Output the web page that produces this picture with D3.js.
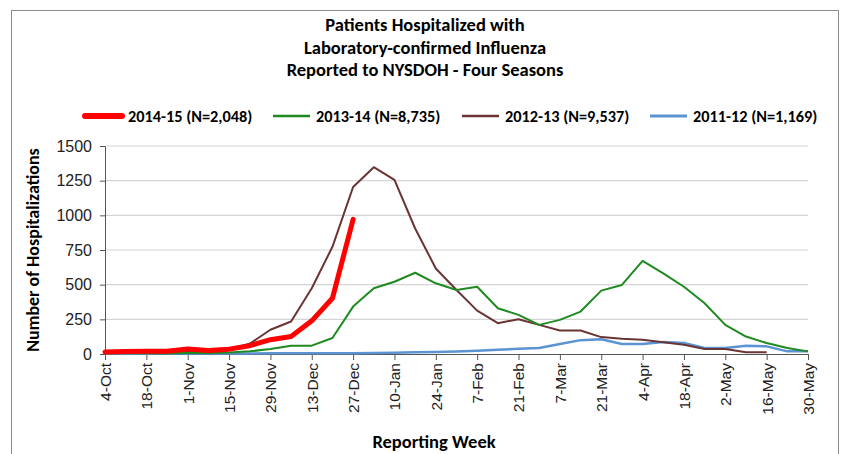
<!DOCTYPE html>
<html lang="en">
<head>
    <meta charset="UTF-8">
    <title>Patients Hospitalized with Laboratory-confirmed Influenza</title>
    <script src="https://d3js.org/d3.v7.min.js"></script>
    <style>
        body { margin: 0; background: #fff; }
        svg { display: block; font-family: Carlito, Calibri, Lato, "Open Sans", sans-serif; }
        .grid line { stroke: #d4d4d4; stroke-width: 1.2; }
        .axis path, .axis line { stroke: #555; }
        .axis text { fill: #222; }
    </style>
</head>
<body>
<svg width="849" height="454"></svg>
<script>
    // reporting weeks (4-Oct .. 30-May), every other one gets a label
    const weeks = ["4-Oct","11-Oct","18-Oct","25-Oct","1-Nov","8-Nov","15-Nov","22-Nov","29-Nov",
        "6-Dec","13-Dec","20-Dec","27-Dec","3-Jan","10-Jan","17-Jan","24-Jan","31-Jan","7-Feb",
        "14-Feb","21-Feb","28-Feb","7-Mar","14-Mar","21-Mar","28-Mar","4-Apr","11-Apr","18-Apr",
        "25-Apr","2-May","9-May","16-May","23-May","30-May"];
    const yTicks = [0, 250, 500, 750, 1000, 1250, 1500];

    const season1415 = [15, 18, 20, 20, 36, 26, 35, 60, 103, 126, 239, 402, 971];
    const season1314 = [4, 5, 5, 6, 7, 8, 10, 19, 36, 60, 60, 115, 342, 474, 521, 586, 510, 462, 485,
        330, 282, 210, 246, 306, 457, 498, 672, 581, 485, 366, 210, 126, 79, 43, 19];
    const season1213 = [10, 12, 14, 15, 18, 22, 35, 74, 175, 234, 474, 773, 1204, 1347, 1256, 905, 617,
        462, 313, 222, 251, 210, 170, 170, 122, 110, 103, 84, 67, 36, 36, 12, 12];
    const season1112 = [2, 2, 3, 3, 3, 3, 4, 4, 5, 5, 5, 6, 6, 7, 9, 12, 15, 18, 24, 30, 37, 43, 72,
        100, 106, 72, 72, 86, 79, 43, 43, 60, 55, 19, 19];

    const seriesNames = ["2014-15 (N=2,048)", "2013-14 (N=8,735)", "2012-13 (N=9,537)", "2011-12 (N=1,169)"];
    const seriesColors = ["#ff0000", "#1f8a1f", "#6b3434", "#5b93d3"];
    const seriesWidths = [5, 2, 2, 2.5];
    const seriesValues = [season1415, season1314, season1213, season1112];

    const svg = d3.select("svg");

    // chart frame
    svg.append("rect")
        .attr("x", 11.5).attr("y", 10.5)
        .attr("width", 827).attr("height", 460)
        .attr("fill", "none").attr("stroke", "#8c8c8c");

    const margin = { top: 146, left: 105, right: 41, bottom: 100 };
    const width = 849 - margin.left - margin.right;
    const height = 454 - margin.top - margin.bottom;

    const x = d3.scalePoint().domain(weeks).range([0, width]);
    const y = d3.scaleLinear().domain([0, 1500]).range([height, 0]);

    const g = svg.append("g").attr("transform", `translate(${margin.left},${margin.top})`);

    // gridlines
    g.append("g").attr("class", "grid")
        .selectAll("line").data(yTicks.slice(1)).join("line")
        .attr("x1", 0).attr("x2", width)
        .attr("y1", d => y(d)).attr("y2", d => y(d));

    // y axis
    const yAxis = g.append("g").attr("class", "axis")
        .call(d3.axisLeft(y).tickValues(yTicks).tickFormat(d3.format("d")).tickSize(5).tickPadding(8));
    yAxis.selectAll("text").style("font-size", "16px");

    // x axis
    const xAxis = g.append("g").attr("class", "axis")
        .attr("transform", `translate(0,${height})`)
        .call(d3.axisBottom(x).tickValues(weeks.filter((d, i) => i % 2 === 0)).tickSize(6).tickPadding(4));
    xAxis.selectAll("text")
        .style("font-size", "15.5px")
        .attr("transform", "rotate(-90)")
        .attr("text-anchor", "end")
        .attr("x", -9).attr("y", 0).attr("dy", "0.35em");

    // series lines, oldest underneath
    const line = d3.line().x((d, i) => x(weeks[i])).y(d => y(d));
    for (let k = seriesValues.length - 1; k >= 0; k--) {
        g.append("path")
            .datum(seriesValues[k])
            .attr("fill", "none")
            .attr("stroke", seriesColors[k])
            .attr("stroke-width", seriesWidths[k])
            .attr("stroke-linejoin", "round")
            .attr("stroke-linecap", k === 0 ? "round" : "butt")
            .attr("d", line);
    }

    // title
    const titleLines = ["Patients Hospitalized with", "Laboratory-confirmed Influenza", "Reported to NYSDOH - Four Seasons"];
    svg.append("g").selectAll("text").data(titleLines).join("text")
        .attr("x", 425).attr("y", (d, i) => 31 + i * 22.5)
        .attr("text-anchor", "middle")
        .style("font-size", "18.5px").style("font-weight", "bold")
        .text(d => d);

    // legend
    const legendX = [85, 273, 462, 650];
    const legend = svg.append("g").selectAll("g").data(seriesNames).join("g")
        .attr("transform", (d, i) => `translate(${legendX[i]},116)`);
    legend.append("line")
        .attr("x1", 0).attr("x2", 37).attr("y1", 0).attr("y2", 0)
        .attr("stroke", (d, i) => seriesColors[i])
        .attr("stroke-width", (d, i) => seriesWidths[i] + (i === 0 ? 1 : 0.5))
        .attr("stroke-linecap", (d, i) => i === 0 ? "round" : "butt");
    legend.append("text")
        .attr("x", 43).attr("y", 0).attr("dy", "0.35em")
        .style("font-size", "16.3px").style("font-weight", "bold")
        .text(d => d);

    // axis titles
    svg.append("text")
        .attr("transform", `translate(39,${margin.top + height / 2}) rotate(-90)`)
        .attr("text-anchor", "middle")
        .style("font-size", "18px").style("font-weight", "bold")
        .text("Number of Hospitalizations");
    svg.append("text")
        .attr("x", 434).attr("y", 448)
        .attr("text-anchor", "middle")
        .style("font-size", "18.5px").style("font-weight", "bold")
        .text("Reporting Week");
</script>
</body>
</html>
